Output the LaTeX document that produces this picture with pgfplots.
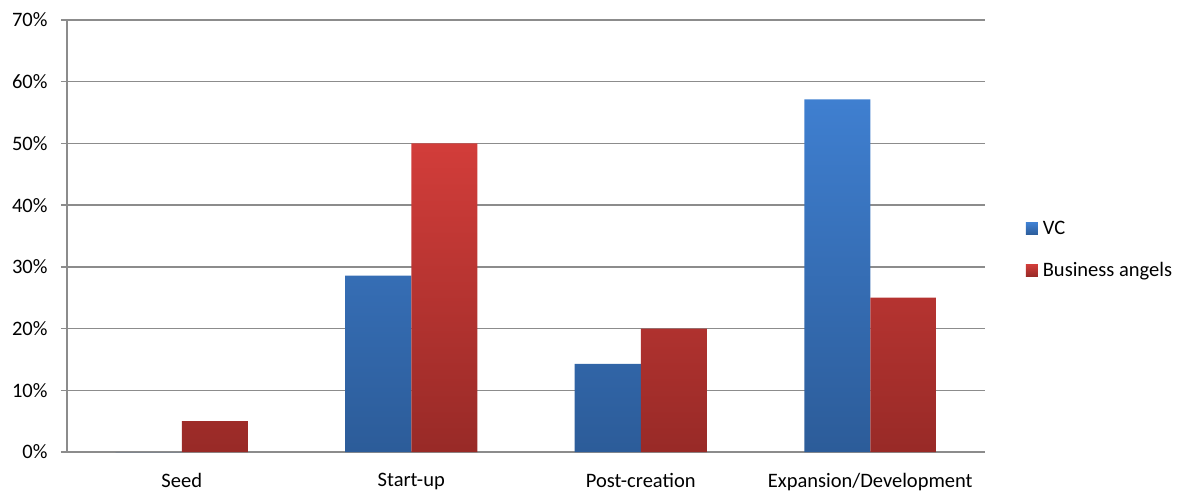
\documentclass[border=0pt]{standalone}
\usepackage{fontspec}
\setmainfont{Carlito}
\usepackage{pgfplots}
\pgfplotsset{compat=1.18}

\definecolor{gridgray}{HTML}{8C8C8C}
\definecolor{vctop}{HTML}{3F7FD0}
\definecolor{vcbot}{HTML}{2C5C99}
\definecolor{batop}{HTML}{D23D3A}
\definecolor{babot}{HTML}{982A27}

\begin{document}
\begin{tikzpicture}
\begin{axis}[
  scale only axis,
  width=918pt, height=432pt,
  ybar=0pt,
  bar width=0.2876,
  xmin=-0.5, xmax=3.5,
  ymin=0, ymax=70,
  axis x line*=bottom,
  axis y line*=left,
  axis line style={gridgray, line width=1.3pt, -},
  xtick={0,1,2,3},
  xticklabels={Seed,Start-up,Post-creation,Expansion/Development},
  major x tick style={draw=none},
  extra x ticks={-0.5,0.5,1.5,2.5,3.5},
  extra x tick labels={},
  extra x tick style={grid=none, major tick length=6pt,
    tick style={gridgray, line width=1.3pt}},
  ytick={0,10,...,70},
  yticklabels={0\%,10\%,20\%,30\%,40\%,50\%,60\%,70\%},
  tick align=outside,
  major tick length=6pt,
  y tick style={gridgray, line width=1.3pt},
  ymajorgrids,
  grid style={gridgray, line width=1.3pt},
  tick label style={font=\fontsize{20.5}{24}\selectfont, text=black},
  xticklabel style={yshift=-12pt},
  yticklabel style={xshift=-10pt},
  legend style={draw=none, fill=none, at={(1.041,0.468)}, anchor=west,
    font=\fontsize{20.5}{24}\selectfont, row sep=22pt},
  legend image code/.code={%
    \fill[#1] (0pt,-6pt) rectangle (12pt,6pt);
    \path (0pt,0pt) -- (15pt,0pt);},
  legend cell align=left,
]
\addplot[draw=none, shade, top color=vctop, bottom color=vcbot]
  coordinates {(0,0) (1,28.57) (2,14.29) (3,57.14)};
\addplot[draw=none, shade, top color=batop, bottom color=babot]
  coordinates {(0,5) (1,50) (2,20) (3,25)};
\legend{VC, Business angels}
\end{axis}
\path[use as bounding box] (-67pt,-40pt) rectangle (1128pt,452pt);
\end{tikzpicture}
\end{document}
